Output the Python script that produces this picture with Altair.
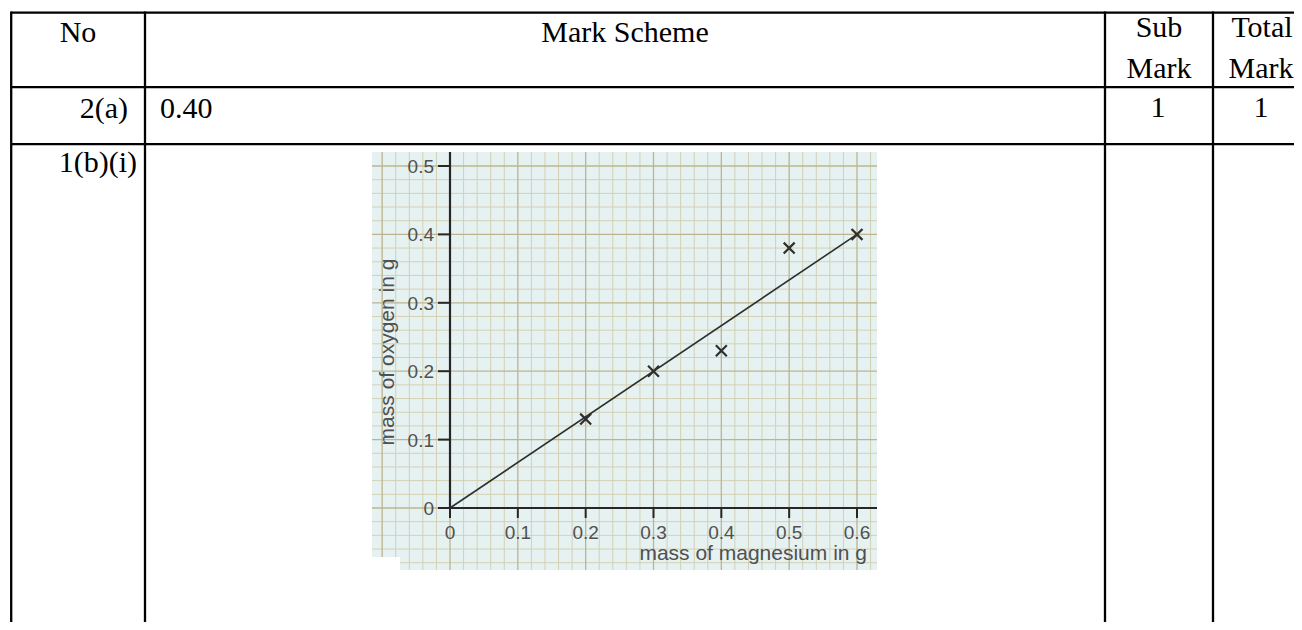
import altair as alt
import numpy as np
import pandas as pd

# ---------------- data ----------------
magnesium = [0.2, 0.3, 0.4, 0.5, 0.6]
oxygen = [0.13, 0.20, 0.23, 0.38, 0.40]
fit_x = [0.0, 0.6]
fit_y = [0.0, 0.4]
x_ticks = [0, 0.1, 0.2, 0.3, 0.4, 0.5, 0.6]
x_tick_labels = ["0", "0.1", "0.2", "0.3", "0.4", "0.5", "0.6"]
y_ticks = [0, 0.1, 0.2, 0.3, 0.4, 0.5]
y_tick_labels = ["0", "0.1", "0.2", "0.3", "0.4", "0.5"]
x_title = "mass of magnesium in g"
y_title = "mass of oxygen in g"

header_texts = ["No", "Mark Scheme", "Sub", "Mark", "Total", "Mark"]
row_a_texts = ["2(a)", "0.40", "1", "1"]
row_b_texts = ["1(b)(i)"]

# ---------------- layout ----------------
W, H = 1286, 614
SERIF = "Liberation Serif"
SANS = "Liberation Sans"
TFS = 30
INK = "#262626"
GREY = "#505050"

# graph paper extents (data units)
gx0, gx1 = -0.115, 0.6295
gy0, gy1 = -0.0906, 0.5205
notch_x, notch_y = -0.0737, -0.0716   # white corner of the scanned picture
tick_x_len = 0.0146   # x-axis tick length (data units of y)
tick_y_len = 0.0177   # y-axis tick length (data units of x)

xs = alt.Scale(domain=[0, 0.6], range=[442, 849], nice=False, zero=False)
ys = alt.Scale(domain=[0, 0.5], range=[500, 158], nice=False, zero=False)

one = alt.Data(values=[{}])

def X(f):
    return alt.X(f, scale=xs, axis=None)

def Y(f):
    return alt.Y(f, scale=ys, axis=None)

def rect(x0, x1, y0, y1, color):
    df = pd.DataFrame({"x": [x0], "x2": [x1], "y": [y0], "y2": [y1]})
    return alt.Chart(df).mark_rect(color=color).encode(
        x=X("x:Q"), x2="x2:Q", y=Y("y:Q"), y2="y2:Q")

bg = rect(gx0, gx1, gy0, gy1, "#e6f2f2")
notch = rect(gx0 - 0.005, notch_x, gy0 - 0.005, notch_y, "white")

# grid lines
vx = np.round(np.arange(-0.10, 0.6201, 0.02), 2)
hy = np.round(np.arange(-0.08, 0.5001, 0.02), 2)
is_major_x = np.isclose((vx * 10) % 1, 0) | np.isclose((vx * 10) % 1, 1)
is_major_y = np.isclose((hy * 10) % 1, 0) | np.isclose((hy * 10) % 1, 1)

vgrid = pd.DataFrame({"x": vx, "y": gy0, "y2": gy1, "major": is_major_x})
hgrid = pd.DataFrame({"y": hy, "x": gx0, "x2": gx1, "major": is_major_y})

def vrules(df, color, width):
    return alt.Chart(df).mark_rule(color=color, strokeWidth=width).encode(
        x=X("x:Q"), y=Y("y:Q"), y2="y2:Q")

def hrules(df, color, width):
    return alt.Chart(df).mark_rule(color=color, strokeWidth=width).encode(
        y=Y("y:Q"), x=X("x:Q"), x2="x2:Q")

grid_layers = [
    vrules(vgrid[~vgrid.major], "#d3d0b4", 1),
    hrules(hgrid[~hgrid.major], "#d3d0b4", 1),
    vrules(vgrid[vgrid.major], "#bcb48f", 1.3),
    hrules(hgrid[hgrid.major], "#bcb48f", 1.3),
]

# axis lines
xaxis_line = hrules(pd.DataFrame({"y": [0.0], "x": [0.0], "x2": [gx1]}), INK, 2.2)
yaxis_line = vrules(pd.DataFrame({"x": [0.0], "y": [0.0], "y2": [gy1]}), INK, 2.2)

# ticks
xt_df = pd.DataFrame({"x": x_ticks, "y": 0.0, "y2": -tick_x_len, "lab": x_tick_labels})
yt_df = pd.DataFrame({"y": y_ticks, "x": 0.0, "x2": -tick_y_len, "lab": y_tick_labels})
xticks = vrules(xt_df, INK, 2)
yticks = hrules(yt_df, INK, 2)

xlabels = alt.Chart(xt_df).mark_text(
    font=SANS, fontSize=19, color=GREY, align="center", baseline="alphabetic", dy=31
).encode(x=X("x:Q"), y=Y("y:Q"), text="lab:N")
ylabels = alt.Chart(yt_df).mark_text(
    font=SANS, fontSize=19, color=GREY, align="right", baseline="middle", dx=-16, dy=1
).encode(x=X("x:Q"), y=Y("y:Q"), text="lab:N")

xtitle = alt.Chart(one).mark_text(
    text=x_title, font=SANS, fontSize=21, color=GREY, align="right",
    baseline="alphabetic").encode(x=alt.value(859), y=alt.value(552))
ytitle = alt.Chart(one).mark_text(
    text=y_title, font=SANS, fontSize=21, color=GREY, align="center",
    baseline="alphabetic", angle=270).encode(x=alt.value(386), y=alt.value(344))

# best-fit line
fit = alt.Chart(pd.DataFrame({"m": fit_x, "o": fit_y})).mark_line(
    color="#2e2e2e", strokeWidth=1.6).encode(x=X("m:Q"), y=Y("o:Q"))

# crosses
pts = alt.Chart(pd.DataFrame({"m": magnesium, "o": oxygen})).mark_point(
    shape="M-1,-1L1,1M1,-1L-1,1", size=120, filled=False, strokeWidth=2.2,
    color="#2e2e2e", opacity=1).encode(x=X("m:Q"), y=Y("o:Q"))

# ---------------- table ----------------
LW = 2.3
def hline(y, x0=3, x1=1300):
    return alt.Chart(one).mark_rule(color="black", strokeWidth=LW).encode(
        x=alt.value(x0), x2=alt.value(x1), y=alt.value(y))

def vline(x, y0=3.5, y1=620):
    return alt.Chart(one).mark_rule(color="black", strokeWidth=LW).encode(
        x=alt.value(x), y=alt.value(y0), y2=alt.value(y1))

table_lines = [hline(4.7), hline(79.2), hline(136.2),
               vline(3.2), vline(137), vline(1097), vline(1205)]

def txt(s, x, y, align="center"):
    return alt.Chart(one).mark_text(
        text=s, font=SERIF, fontSize=TFS, align=align, baseline="alphabetic",
        color="black").encode(x=alt.value(x), y=alt.value(y))

table_text = [
    txt(header_texts[0], 70, 33.5),
    txt(header_texts[1], 617, 33.5),
    txt(header_texts[2], 1151, 28.5),
    txt(header_texts[3], 1151, 69.5),
    txt(header_texts[4], 1254, 28.5),
    txt(header_texts[5], 1253, 69.5),
    txt(row_a_texts[0], 120, 110, "right"),
    txt(row_a_texts[1], 152, 110, "left"),
    txt(row_a_texts[2], 1150, 109),
    txt(row_a_texts[3], 1253, 109),
    txt(row_b_texts[0], 129, 164, "right"),
]

chart = alt.layer(
    bg, *grid_layers, notch, xaxis_line, yaxis_line, xticks, yticks, xlabels, ylabels,
    xtitle, ytitle, fit, pts, *table_lines, *table_text
).properties(
    width=W, height=H,
    autosize=alt.AutoSizeParams(type="none"),
    padding=0,
    background="white",
).configure_view(stroke=None)

chart.save("out.html", embed_options={"renderer": "svg", "actions": False})
